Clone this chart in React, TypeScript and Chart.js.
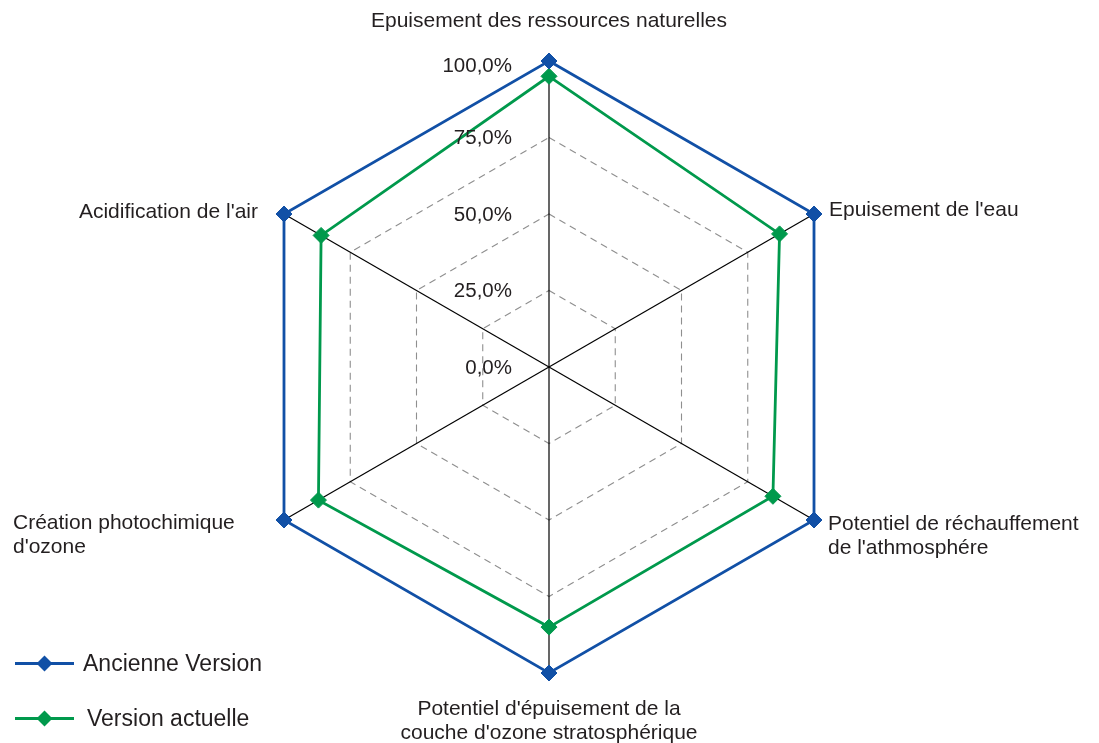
import React, { useEffect, useRef } from 'react';
import { Chart, registerables } from 'chart.js';

Chart.register(...registerables);

// ---- Data ----
const CATEGORIES: string[][] = [
  ['Epuisement des ressources naturelles'],
  ["Epuisement de l'eau"],
  ['Potentiel de réchauffement', "de l'athmosphére"],
  ["Potentiel d'épuisement de la", "couche d'ozone stratosphérique"],
  ['Création photochimique', "d'ozone"],
  ["Acidification de l'air"],
];
const SERIES_NAMES = ['Ancienne Version', 'Version actuelle'];
const ANCIENNE_VERSION = [100, 100, 100, 100, 100, 100];
const VERSION_ACTUELLE = [95, 87, 84.5, 85, 87, 86];
const TICK_VALUES = [0, 25, 50, 75, 100];
const TICK_LABELS = ['0,0%', '25,0%', '50,0%', '75,0%', '100,0%'];

const BLUE = '#1150a6';
const GREEN = '#00994c';
const TEXT = '#231f20';
const FONT = '"Liberation Sans", Arial, sans-serif';

// placement of the category labels relative to their outer vertex
const LABEL_PLACE = [
  { align: 'center', dx: 0, dy: -40 },
  { align: 'left', dx: 15, dy: -4 },
  { align: 'left', dx: 14, dy: 4 },
  { align: 'center', dx: 0, dy: 36 },
  { align: 'left', dx: -271, dy: 3 },
  { align: 'right', dx: -26, dy: -2 },
];

const customDraw = {
  id: 'customDraw',
  afterDraw(chart: any) {
    const ctx = chart.ctx;
    const scale = chart.scales.r;
    ctx.save();
    ctx.fillStyle = TEXT;
    ctx.textBaseline = 'middle';

    // tick labels
    ctx.font = `20.5px ${FONT}`;
    ctx.textAlign = 'right';
    TICK_VALUES.forEach((v, i) => {
      const p = scale.getPointPositionForValue(0, v);
      const off = i === TICK_VALUES.length - 1 ? 5 : 1;
      ctx.fillText(TICK_LABELS[i], scale.xCenter - 37, p.y + off);
    });

    // category labels
    ctx.font = `21px ${FONT}`;
    (chart.data.labels as string[][]).forEach((lines, i) => {
      const v = scale.getPointPositionForValue(i, scale.max);
      const pl = LABEL_PLACE[i];
      ctx.textAlign = pl.align;
      lines.forEach((line, j) => {
        ctx.fillText(line, v.x + pl.dx, v.y + pl.dy + j * 24);
      });
    });

    // legend
    const rows = [
      { y: 663.5, tx: 83 },
      { y: 718.5, tx: 87 },
    ];
    ctx.font = `23px ${FONT}`;
    ctx.textAlign = 'left';
    chart.data.datasets.forEach((ds: any, i: number) => {
      const r = rows[i];
      ctx.strokeStyle = ds.borderColor;
      ctx.lineWidth = 2.8;
      ctx.beginPath();
      ctx.moveTo(15, r.y);
      ctx.lineTo(74, r.y);
      ctx.stroke();
      ctx.fillStyle = ds.borderColor;
      ctx.beginPath();
      const cx = 44.5, s = 8;
      ctx.moveTo(cx, r.y - s);
      ctx.lineTo(cx + s, r.y);
      ctx.lineTo(cx, r.y + s);
      ctx.lineTo(cx - s, r.y);
      ctx.closePath();
      ctx.fill();
      ctx.fillStyle = TEXT;
      ctx.fillText(ds.label, r.tx, r.y + 1);
    });
    ctx.restore();
  },
};

export default function App() {
  const ref = useRef<HTMLCanvasElement | null>(null);
  useEffect(() => {
    if (!ref.current) return;
    const mk = (label: string, data: number[], color: string) => ({
      label,
      data,
      borderColor: color,
      backgroundColor: color,
      pointBackgroundColor: color,
      pointBorderColor: color,
      borderWidth: 2.8,
      pointStyle: 'rectRot',
      pointRadius: 8,
      pointBorderWidth: 1,
      fill: false,
    });
    const chart = new Chart(ref.current, {
      type: 'radar',
      data: {
        labels: CATEGORIES,
        datasets: [
          mk(SERIES_NAMES[0], ANCIENNE_VERSION, BLUE),
          mk(SERIES_NAMES[1], VERSION_ACTUELLE, GREEN),
        ],
      },
      options: {
        responsive: false,
        animation: false,
        layout: { padding: { top: 61, bottom: 70, left: 0, right: 0 } },
        plugins: {
          legend: { display: false },
          tooltip: { enabled: false },
        },
        scales: {
          r: {
            min: 0,
            max: 100,
            ticks: { display: false, stepSize: 25 },
            pointLabels: { display: false },
            grid: { color: '#8f8f8f', lineWidth: 1.1 },
            border: { dash: [7, 5] },
            angleLines: { color: '#000000', lineWidth: 1.2 },
          },
        },
      },
      plugins: [customDraw],
    } as any);
    return () => chart.destroy();
  }, []);

  return (
    <div
      style={{
        position: 'fixed',
        left: 0,
        top: 0,
        width: 1099,
        height: 743,
        background: '#ffffff',
      }}
    >
      <canvas ref={ref} width={1099} height={743} />
    </div>
  );
}
